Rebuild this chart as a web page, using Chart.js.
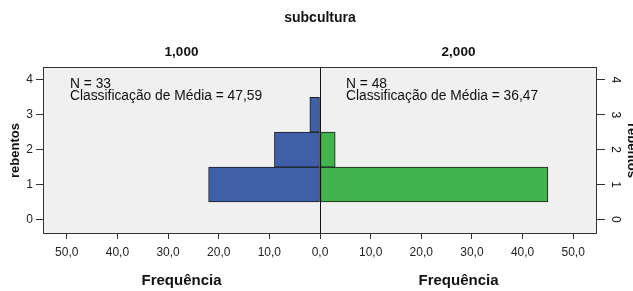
<!DOCTYPE html>
<html>
<head>
<meta charset="utf-8">
<script src="https://cdn.jsdelivr.net/npm/chart.js@4.4.1/dist/chart.umd.min.js"></script>
<style>
  html, body { margin: 0; padding: 0; background: #fff; }
  #wrap { width: 633px; height: 291px; position: relative; }
</style>
</head>
<body>
<div id="wrap"><canvas id="pyramid"></canvas></div>
<script>
// rebentos values (y categories) and frequencies per subcultura group
const rebentos = [0, 1, 2, 3, 4];
const freqGroup1 = [0, 22, 9, 2, 0];   // subcultura 1,000 (left side)
const freqGroup2 = [0, 45, 3, 0, 0];   // subcultura 2,000 (right side)
const groupLabels = ['1,000', '2,000'];
const groupNotes = [
    ['N = 33', 'Classificação de Média = 47,59'],
    ['N = 48', 'Classificação de Média = 36,47']
];
const freqTicks = [-50, -40, -30, -20, -10, 0, 10, 20, 30, 40, 50];

const FONT = "'Liberation Sans', Arial, sans-serif";
Chart.defaults.font.family = FONT;
Chart.defaults.color = '#222';

// build points, skip empty rows so no zero-width bars get drawn
function toPoints(values, sign) {
    const pts = [];
    values.forEach((v, i) => {
        if (v !== 0) pts.push({ x: sign * v, y: rebentos[i] });
    });
    return pts;
}

const fmt = v => Math.abs(v).toFixed(1).replace('.', ',');

const panelText = {
    id: 'panelText',
    beforeDraw(chart) {
        const { ctx, chartArea } = chart;
        ctx.save();
        ctx.fillStyle = '#f0f0f0';
        ctx.fillRect(chartArea.left, chartArea.top, chartArea.right - chartArea.left, chartArea.bottom - chartArea.top);
        ctx.restore();
    },
    afterDatasetsDraw(chart) {
        const { ctx, chartArea } = chart;
        const x0 = chart.scales.x.getPixelForValue(0);
        ctx.save();
        ctx.strokeStyle = '#111';
        ctx.lineWidth = 1;
        ctx.beginPath();
        ctx.moveTo(Math.round(x0) + 0.5, chartArea.top);
        ctx.lineTo(Math.round(x0) + 0.5, chartArea.bottom);
        ctx.stroke();
        ctx.strokeStyle = '#333';
        ctx.strokeRect(chartArea.left + 0.5, chartArea.top + 0.5, chartArea.right - chartArea.left - 1, chartArea.bottom - chartArea.top - 1);
        ctx.restore();
    },
    afterDraw(chart) {
        const { ctx, chartArea } = chart;
        const x0 = chart.scales.x.getPixelForValue(0);
        const y2 = chart.scales.y2;
        const centers = [(chartArea.left + x0) / 2, (x0 + chartArea.right) / 2];
        const starts = [chartArea.left + 27, x0 + 26];
        ctx.save();
        ctx.fillStyle = '#111';
        ctx.textAlign = 'center';
        ctx.textBaseline = 'middle';

        ctx.font = 'bold 14px ' + FONT;
        ctx.fillText('subcultura', x0, 18);

        centers.forEach((cx, i) => {
            ctx.font = 'bold 13.5px ' + FONT;
            ctx.fillText(groupLabels[i], cx, 52.5);
            ctx.font = 'bold 15px ' + FONT;
            ctx.fillText('Frequência', cx, 281);
        });

        ctx.textAlign = 'left';
        ctx.font = '13.8px ' + FONT;
        starts.forEach((sx, i) => {
            ctx.fillText(groupNotes[i][0], sx, chartArea.top + 17.5);
            ctx.fillText(groupNotes[i][1], sx, chartArea.top + 29.5);
        });

        // right axis labels, turned clockwise like the original
        ctx.textAlign = 'center';
        ctx.font = '12px ' + FONT;
        rebentos.forEach(v => {
            ctx.save();
            ctx.translate(615, y2.getPixelForValue(v));
            ctx.rotate(Math.PI / 2);
            ctx.fillText(String(v), 0, 0);
            ctx.restore();
        });
        ctx.font = 'bold 13px ' + FONT;
        ctx.save();
        ctx.translate(632, (chartArea.top + chartArea.bottom) / 2);
        ctx.rotate(Math.PI / 2);
        ctx.fillText('rebentos', 0, 0);
        ctx.restore();
        ctx.restore();
    }
};

const ctx = document.getElementById('pyramid').getContext('2d');
new Chart(ctx, {
    type: 'bar',
    data: {
        datasets: [
            {
                label: groupLabels[0],
                data: toPoints(freqGroup1, -1),
                backgroundColor: '#3f5fa9',
                borderColor: '#1e1e1e',
                borderWidth: 1,
                borderSkipped: false
            },
            {
                label: groupLabels[1],
                data: toPoints(freqGroup2, 1),
                backgroundColor: '#41b44d',
                borderColor: '#1e1e1e',
                borderWidth: 1,
                borderSkipped: false
            }
        ]
    },
    options: {
        indexAxis: 'y',
        responsive: true,
        maintainAspectRatio: false,
        animation: false,
        barPercentage: 1,
        categoryPercentage: 1,
        layout: { padding: { top: 67, left: 0, right: 0, bottom: 0 } },
        plugins: {
            legend: { display: false },
            tooltip: { enabled: false },
            title: { display: false }
        },
        scales: {
            x: {
                type: 'linear',
                stacked: true,
                min: -54.7,
                max: 54.7,
                afterBuildTicks: s => { s.ticks = freqTicks.map(v => ({ value: v })); },
                ticks: {
                    callback: v => fmt(v),
                    font: { size: 12 },
                    color: '#222',
                    padding: 6,
                    maxRotation: 0
                },
                grid: { drawOnChartArea: false, tickLength: 5, tickColor: '#333' },
                border: { display: false },
                afterFit: s => { s.height = 57; }
            },
            y: {
                type: 'linear',
                stacked: true,
                offset: false,
                position: 'left',
                min: -0.42,
                max: 4.37,
                afterBuildTicks: s => { s.ticks = rebentos.map(v => ({ value: v })); },
                ticks: { font: { size: 12 }, color: '#222', padding: 3 },
                grid: { offset: false, drawOnChartArea: false, tickLength: 7, tickColor: '#333' },
                border: { display: false },
                title: {
                    display: true,
                    text: 'rebentos',
                    font: { size: 13, weight: 'bold' },
                    color: '#111',
                    padding: { top: 8, bottom: 0 }
                },
                afterFit: s => { s.width = 43; }
            },
            y2: {
                type: 'linear',
                axis: 'y',
                offset: false,
                position: 'right',
                min: -0.42,
                max: 4.37,
                afterBuildTicks: s => { s.ticks = rebentos.map(v => ({ value: v })); },
                ticks: { display: false },
                grid: { offset: false, drawOnChartArea: false, tickLength: 8, tickColor: '#333' },
                border: { display: false },
                afterFit: s => { s.width = 36; }
            }
        }
    },
    plugins: [panelText]
});
</script>
</body>
</html>
